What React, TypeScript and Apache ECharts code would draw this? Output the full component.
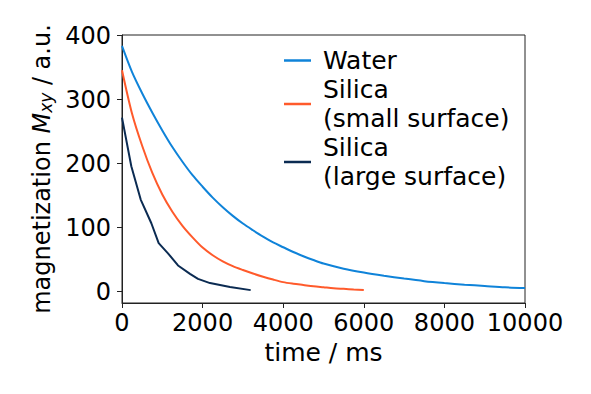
import React, { useEffect, useRef } from "react";
import * as echarts from "echarts";

const waterT = [0, 250, 500, 750, 1000, 1250, 1500, 1750, 2000, 2250, 2500, 2750, 3000, 3250, 3500, 3750, 4000, 4250, 4500, 4750, 5000, 5500, 6000, 6500, 7000, 7500, 8000, 8500, 9000, 9500, 10000];
const waterV = [384, 343, 310, 280, 252, 226, 203, 182, 164, 147, 132, 118.5, 106.5, 96, 86, 77, 69.5, 62, 55.5, 49.5, 44, 36, 30, 25, 20.5, 16.5, 13.5, 11, 9, 7, 5.8];

const smallT = [0, 250, 500, 750, 1000, 1250, 1500, 1750, 2000, 2250, 2500, 2750, 3000, 3250, 3500, 3750, 4000, 4250, 4500, 4750, 5000, 5250, 5500, 5750, 6000];
const smallV = [346, 278, 228, 186, 152, 125, 103, 85, 69, 57, 47.5, 40, 34, 28.5, 23.5, 19, 15, 12.5, 10.5, 8.5, 7, 5.5, 4.5, 3.5, 2.6];

const largeT = [0, 231, 464, 728, 910, 1141, 1390, 1687, 1886, 2184, 2680, 3193];
const largeV = [272, 196, 144, 107, 76, 60, 41, 28, 20, 13.5, 7.3, 2.5];

const seriesNames = ["Water", "Silica\n(small surface)", "Silica\n(large surface)"];
const seriesColors = ["#0f83d9", "#ff5a2b", "#0b2b52"];
const seriesSmooth = [0.3, 0.3, 0];
const yTicks = [0, 100, 200, 300, 400];

const pairs = (t: number[], v: number[]) => t.map((x, i) => [x, v[i]]);

export default function App() {
  const ref = useRef<HTMLDivElement>(null);
  useEffect(() => {
    if (!ref.current) return;
    const chart = echarts.init(ref.current, null, { renderer: "svg" });
    const font = "DejaVu Sans";
    const data = [pairs(waterT, waterV), pairs(smallT, smallV), pairs(largeT, largeV)];
    chart.setOption({
      animation: false,
      textStyle: { fontFamily: font },
      grid: {
        left: 122,
        right: 66,
        top: 35,
        bottom: 91,
        show: true,
        borderColor: "#222",
        borderWidth: 1,
        backgroundColor: "transparent",
      },
      legend: {
        orient: "vertical",
        left: 284,
        top: 46,
        padding: 0,
        itemGap: 0,
        itemWidth: 27,
        itemHeight: 2.5,
        icon: "rect",
        textStyle: {
          fontFamily: font,
          fontSize: 25,
          lineHeight: 29,
          color: "#000",
          padding: [0, 0, 0, 7],
        },
        data: seriesNames,
      },
      xAxis: {
        type: "value",
        min: 0,
        max: 10000,
        interval: 2000,
        name: "time / ms",
        nameLocation: "middle",
        nameGap: 37,
        nameTextStyle: { fontFamily: font, fontSize: 25, color: "#000" },
        axisLine: { show: true, onZero: false, lineStyle: { color: "#222", width: 1 } },
        axisTick: { show: true, inside: false, length: 5, lineStyle: { color: "#222" } },
        axisLabel: {
          fontFamily: font,
          fontSize: 24,
          color: "#000",
          margin: 8,
          formatter: (v: number) => String(v),
        },
        splitLine: { show: false },
      },
      yAxis: {
        type: "value",
        min: -17.6,
        max: 401,
        name: "magnetization {i|M}{sub|xy} / a.u.",
        nameLocation: "middle",
        nameRotate: 90,
        nameGap: 68,
        nameTextStyle: {
          fontFamily: font,
          fontSize: 24,
          color: "#000",
          rich: {
            i: { fontFamily: font, fontSize: 24, fontStyle: "italic", color: "#000" },
            sub: {
              fontFamily: font,
              fontSize: 17,
              fontStyle: "italic",
              color: "#000",
              verticalAlign: "bottom",
              padding: [8, 0, 0, 0],
            },
          },
        },
        axisLine: { show: true, onZero: false, lineStyle: { color: "#222", width: 1 } },
        axisTick: { show: true, length: 5, customValues: yTicks, lineStyle: { color: "#222" } },
        axisLabel: {
          fontFamily: font,
          fontSize: 24,
          color: "#000",
          margin: 11,
          customValues: yTicks,
          formatter: (v: number) => String(v),
        },
        splitLine: { show: false },
      },
      series: seriesNames.map((name, i) => ({
        name,
        type: "line",
        data: data[i],
        showSymbol: false,
        symbol: "none",
        smooth: seriesSmooth[i],
        lineStyle: { color: seriesColors[i], width: 2 },
        itemStyle: { color: seriesColors[i] },
      })),
    });
    return () => chart.dispose();
  }, []);
  return <div ref={ref} style={{ width: 591, height: 394, margin: -8 }} />;
}
